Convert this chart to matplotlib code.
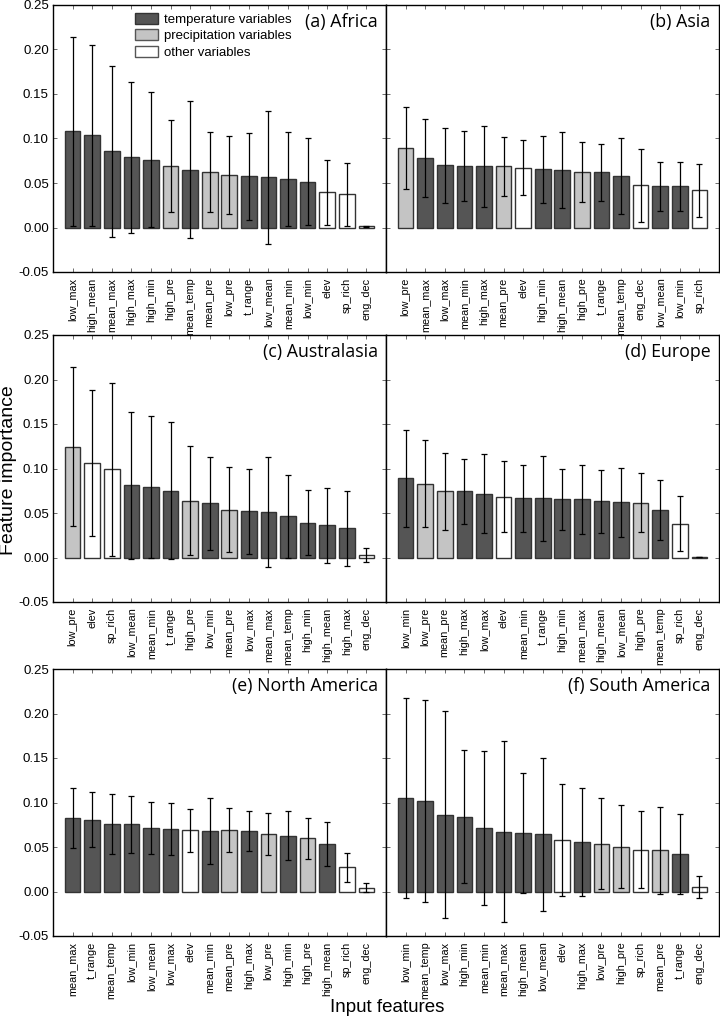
import matplotlib
matplotlib.use('Agg')
import matplotlib.pyplot as plt
from matplotlib.patches import Patch
import numpy as np

plt.rcParams['font.family'] = ['Liberation Sans', 'DejaVu Sans']
plt.rcParams['axes.unicode_minus'] = False

# panel data: feature names, importance, error (std)
africa_feat = ['low_max', 'high_mean', 'mean_max', 'high_max', 'high_min', 'high_pre', 'mean_temp', 'mean_pre',
               'low_pre', 't_range', 'low_mean', 'mean_min', 'low_min', 'elev', 'sp_rich', 'eng_dec']
africa_val = [0.108, 0.1035, 0.0855, 0.0787, 0.0761, 0.069, 0.0649, 0.0622,
              0.0593, 0.0574, 0.0562, 0.0544, 0.0514, 0.0394, 0.0375, 0.0015]
africa_err = [0.106, 0.1015, 0.096, 0.0845, 0.076, 0.052, 0.077, 0.045,
              0.044, 0.049, 0.0745, 0.053, 0.049, 0.037, 0.0355, 0.0005]

asia_feat = ['low_pre', 'mean_max', 'low_max', 'mean_min', 'high_max', 'mean_pre', 'elev', 'high_min',
             'high_mean', 'high_pre', 't_range', 'mean_temp', 'eng_dec', 'low_mean', 'low_min', 'sp_rich']
asia_val = [0.0896, 0.078, 0.0697, 0.069, 0.069, 0.0686, 0.0671, 0.0652,
            0.0649, 0.0626, 0.0622, 0.0577, 0.0472, 0.0461, 0.0461, 0.0416]
asia_err = [0.046, 0.044, 0.042, 0.039, 0.0455, 0.033, 0.031, 0.0375,
            0.0425, 0.034, 0.032, 0.043, 0.041, 0.027, 0.027, 0.030]

austral_feat = ['low_pre', 'elev', 'sp_rich', 'low_mean', 'mean_min', 't_range', 'high_pre', 'low_min',
                'mean_pre', 'low_max', 'mean_max', 'mean_temp', 'high_min', 'high_mean', 'high_max', 'eng_dec']
austral_val = [0.1247, 0.106, 0.0989, 0.0809, 0.079, 0.0749, 0.064, 0.0607,
               0.0539, 0.0517, 0.0509, 0.0461, 0.0393, 0.036, 0.0326, 0.0026]
austral_err = [0.089, 0.082, 0.097, 0.083, 0.080, 0.077, 0.061, 0.052,
               0.048, 0.048, 0.062, 0.047, 0.036, 0.042, 0.042, 0.008]

europe_feat = ['low_min', 'low_pre', 'mean_pre', 'high_max', 'low_max', 'elev', 'mean_min', 't_range',
               'high_min', 'mean_max', 'high_mean', 'low_mean', 'high_pre', 'mean_temp', 'sp_rich', 'eng_dec']
europe_val = [0.0888, 0.0828, 0.0742, 0.0742, 0.0719, 0.0685, 0.0663, 0.0663,
              0.0655, 0.0652, 0.0633, 0.0618, 0.0614, 0.0536, 0.0382, 0.0005]
europe_err = [0.054, 0.049, 0.043, 0.036, 0.044, 0.040, 0.038, 0.048,
              0.0345, 0.039, 0.0355, 0.039, 0.033, 0.034, 0.031, 0.0003]

namer_feat = ['mean_max', 't_range', 'mean_temp', 'low_min', 'low_mean', 'low_max', 'elev', 'mean_min',
              'mean_pre', 'high_max', 'low_pre', 'high_min', 'high_pre', 'high_mean', 'sp_rich', 'eng_dec']
namer_val = [0.0825, 0.0806, 0.0761, 0.0753, 0.0712, 0.0704, 0.0689, 0.0682,
             0.0689, 0.0678, 0.0648, 0.0629, 0.0599, 0.0531, 0.0271, 0.0041]
namer_err = [0.034, 0.031, 0.0335, 0.032, 0.029, 0.029, 0.024, 0.037,
             0.025, 0.0225, 0.0235, 0.0275, 0.023, 0.0245, 0.016, 0.005]

samer_feat = ['low_min', 'mean_temp', 'low_max', 'high_min', 'mean_min', 'mean_max', 'high_mean', 'low_mean',
              'elev', 'high_max', 'low_pre', 'high_pre', 'sp_rich', 'mean_pre', 't_range', 'eng_dec']
samer_val = [0.1051, 0.1017, 0.0863, 0.084, 0.0712, 0.0674, 0.0659, 0.0644,
             0.0576, 0.0554, 0.0535, 0.0505, 0.0471, 0.0463, 0.0418, 0.0053]
samer_err = [0.112, 0.1135, 0.1165, 0.075, 0.0865, 0.102, 0.0675, 0.086,
             0.063, 0.061, 0.051, 0.047, 0.043, 0.049, 0.045, 0.0125]

panels = [
    ('(a) Africa', africa_feat, africa_val, africa_err),
    ('(b) Asia', asia_feat, asia_val, asia_err),
    ('(c) Australasia', austral_feat, austral_val, austral_err),
    ('(d) Europe', europe_feat, europe_val, europe_err),
    ('(e) North America', namer_feat, namer_val, namer_err),
    ('(f) South America', samer_feat, samer_val, samer_err),
]

dark = '#555555'
light = '#c4c4c4'
other_c = 'white'


def feature_color(name):
    if name.endswith('_pre'):
        return light
    if name in ('elev', 'sp_rich', 'eng_dec'):
        return other_c
    return dark


fig = plt.figure(figsize=(7.2, 10.19), dpi=100)

lefts = [53 / 720, 386 / 720]
width = 333 / 720
bottoms = [1 - 272 / 1019, 1 - 602 / 1019, 1 - 936 / 1019]
height = 267 / 1019
yticks = np.arange(-0.05, 0.2501, 0.05)

for idx, (title, feats, vals, errs) in enumerate(panels):
    row, col = divmod(idx, 2)
    ax = fig.add_axes([lefts[col], bottoms[row], width, height])
    x = np.arange(len(feats))
    colors = [feature_color(f) for f in feats]
    ax.bar(x, vals, width=0.8, color=colors, edgecolor='#333333', linewidth=1.0, zorder=2)
    ax.errorbar(x, vals, yerr=errs, fmt='none', ecolor='black', elinewidth=0.9,
                capsize=2, capthick=0.9, zorder=3)
    ax.set_xlim(-1, 16)
    ax.set_ylim(-0.05, 0.25)
    ax.set_yticks(yticks)
    ax.set_xticks(x)
    ax.set_xticklabels(feats, rotation=90, fontsize=7.8)
    if col == 0:
        ax.set_yticklabels(['%.2f' % t for t in yticks], fontsize=9.5)
    else:
        ax.set_yticklabels([])
    ax.tick_params(direction='in', top=True, right=True, length=3, width=0.6, color='#555555')
    ax.tick_params(axis='y', pad=3)
    ax.tick_params(axis='x', pad=4)
    for s in ax.spines.values():
        s.set_linewidth(1.0)
        s.set_color('black')
    ax.text(0.975, 0.935, title, transform=ax.transAxes, ha='right', va='center',
            fontsize=12.8, family=['Open Sans', 'DejaVu Sans'])
    if idx == 0:
        handles = [Patch(facecolor=dark, edgecolor='#333333', label='temperature variables'),
                   Patch(facecolor=light, edgecolor='#555555', label='precipitation variables'),
                   Patch(facecolor=other_c, edgecolor='#555555', label='other variables')]
        ax.legend(handles=handles, loc='upper left', bbox_to_anchor=(0.245, 0.97), frameon=False,
                  fontsize=9.5, handlelength=1.8, handleheight=0.9, labelspacing=0.25,
                  handletextpad=0.4, borderpad=0, borderaxespad=0)

fig.text(0.012, 1 - 470 / 1019, 'Feature importance', rotation=90, ha='center', va='center', fontsize=14)
fig.text(387 / 720, 1 - 1008 / 1019, 'Input features', ha='center', va='center', fontsize=13.5)

fig.savefig('out.png', dpi=100)
